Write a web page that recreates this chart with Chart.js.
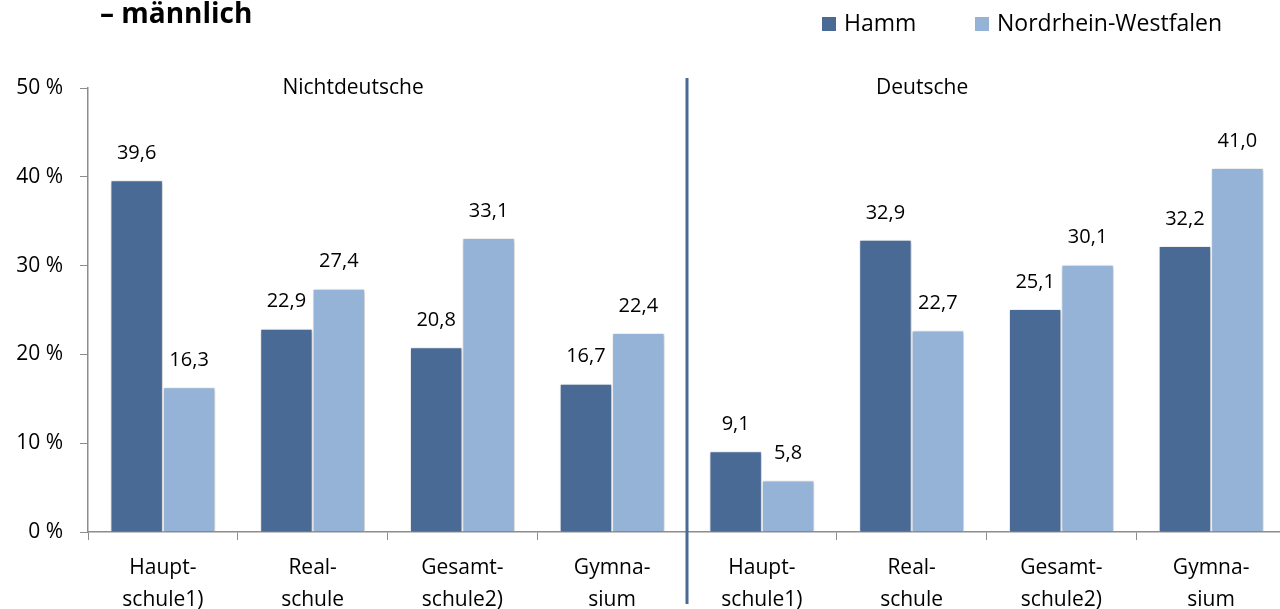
<!DOCTYPE html>
<html lang="de">
<head>
<meta charset="utf-8">
<title>Schulabgänger – männlich</title>
<script src="https://cdn.jsdelivr.net/npm/chart.js@4.4.1/dist/chart.umd.min.js"></script>
<style>
  html, body { margin: 0; padding: 0; background: #fff; overflow: hidden; }
  #wrap { position: relative; width: 1286px; height: 609px; }
</style>
</head>
<body>
<div id="wrap"><canvas id="chart"></canvas></div>
<script>
/* ── Data ─────────────────────────────────────────────── */
const categories = [
  ['Haupt-', 'schule1)'], ['Real-', 'schule'], ['Gesamt-', 'schule2)'], ['Gymna-', 'sium'],
  ['Haupt-', 'schule1)'], ['Real-', 'schule'], ['Gesamt-', 'schule2)'], ['Gymna-', 'sium']
];
const hammValues = [39.6, 22.9, 20.8, 16.7, 9.1, 32.9, 25.1, 32.2];
const nrwValues  = [16.3, 27.4, 33.1, 22.4, 5.8, 22.7, 30.1, 41.0];
const groupNames = ['Nichtdeutsche', 'Deutsche'];
const yTicks     = [0, 10, 20, 30, 40, 50];
const titleText  = '– männlich';

const FONT = "'Open Sans', sans-serif";
const DARK = '#4a6a96';
const LIGHT = '#95b3d7';
const AXIS = '#8c8c8c';

/* ── Plugins ──────────────────────────────────────────── */
const shadowPlugin = {
  id: 'barShadow',
  beforeDatasetsDraw(chart) {
    const c = chart.ctx;
    c.save();
    c.shadowColor = 'rgba(0,0,0,0.28)';
    c.shadowBlur = 4;
    c.shadowOffsetX = 1;
    c.shadowOffsetY = 1;
  },
  afterDatasetsDraw(chart) { chart.ctx.restore(); }
};

const decoPlugin = {
  id: 'deco',
  afterDraw(chart) {
    const c = chart.ctx, x = chart.scales.x, y = chart.scales.y;

    // value labels
    c.save();
    c.font = `20px ${FONT}`;
    c.fillStyle = '#000';
    c.textAlign = 'center';
    c.textBaseline = 'middle';
    chart.data.datasets.forEach((ds, di) => {
      chart.getDatasetMeta(di).data.forEach((bar, i) => {
        c.fillText(ds.data[i].toFixed(1).replace('.', ','), bar.x, bar.y - 27);
      });
    });

    // separator between groups
    const sep = (x.getPixelForValue(3) + x.getPixelForValue(4)) / 2;
    c.strokeStyle = DARK;
    c.lineWidth = 3;
    c.beginPath();
    c.moveTo(sep, 78);
    c.lineTo(sep, 604);
    c.stroke();

    // group headings
    c.font = `21px ${FONT}`;
    c.fillText(groupNames[0], x.getPixelForValue(1.27), y.getPixelForValue(50));
    c.fillText(groupNames[1], x.getPixelForValue(5.07), y.getPixelForValue(50));

    // title (cut at top like the source)
    c.textAlign = 'left';
    c.textBaseline = 'alphabetic';
    c.font = `bold 28px ${FONT}`;
    c.fillText(titleText, 100, 23);

    // legend
    c.font = `23px ${FONT}`;
    c.textBaseline = 'middle';
    let lx = 822;
    chart.data.datasets.forEach((ds, di) => {
      c.fillStyle = ds.backgroundColor;
      c.fillRect(lx, 17, 14, 14);
      c.fillStyle = '#000';
      c.fillText(ds.label, lx + 22, 24);
      lx = 975;
    });
    c.restore();
  }
};

/* ── Chart ────────────────────────────────────────────── */
new Chart(document.getElementById('chart'), {
  type: 'bar',
  data: {
    labels: categories,
    datasets: [
      { label: 'Hamm', data: hammValues, backgroundColor: DARK,
        borderColor: 'rgba(255,255,255,0.85)', borderWidth: 1 },
      { label: 'Nordrhein-Westfalen', data: nrwValues, backgroundColor: LIGHT,
        borderColor: 'rgba(255,255,255,0.85)', borderWidth: 1 }
    ]
  },
  plugins: [shadowPlugin, decoPlugin],
  options: {
    responsive: true,
    maintainAspectRatio: false,
    animation: false,
    datasets: { bar: { categoryPercentage: 0.7, barPercentage: 1.0 } },
    layout: { padding: { top: 88, left: 0, right: 0, bottom: 0 } },
    plugins: { legend: { display: false }, tooltip: { enabled: false } },
    scales: {
      x: {
        afterFit: s => { s.height = 77; },
        grid: { drawOnChartArea: false, tickLength: 8, color: AXIS, offset: true },
        border: { color: AXIS, width: 1.5 },
        ticks: { color: '#000', font: { family: FONT, size: 21, lineHeight: 1.52 }, padding: 12 }
      },
      y: {
        min: 0, max: 50,
        afterFit: s => { s.width = 88; },
        afterBuildTicks: s => { s.ticks = yTicks.map(v => ({ value: v })); },
        grid: { drawOnChartArea: false, tickLength: 8, color: AXIS },
        border: { color: AXIS, width: 1.5 },
        ticks: { color: '#000', font: { family: FONT, size: 21 }, padding: 17,
                 callback: v => v + ' %' }
      }
    }
  }
});
</script>
</body>
</html>
